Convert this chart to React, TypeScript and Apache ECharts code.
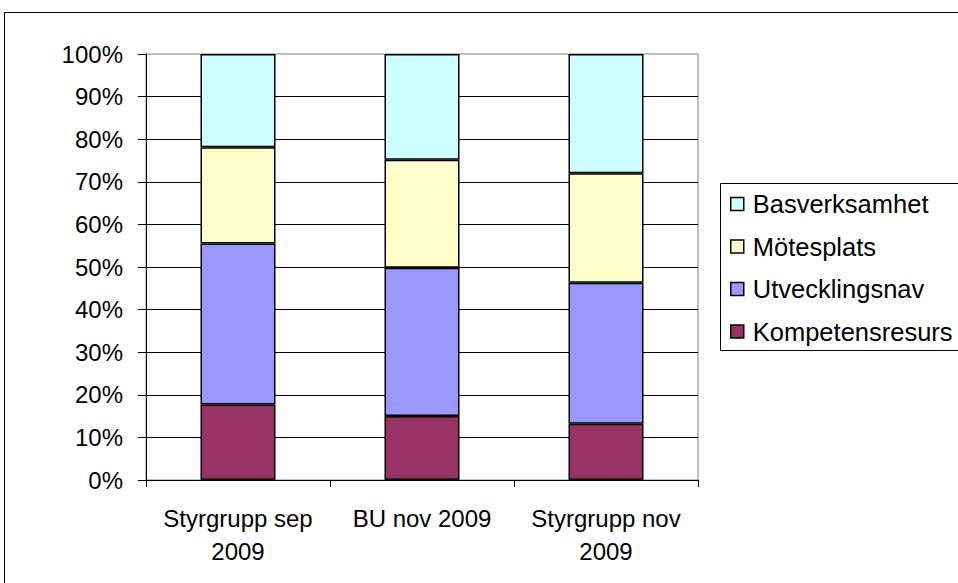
import React, { useEffect, useRef } from "react";
import * as echarts from "echarts";

const categories = ["Styrgrupp sep\n2009", "BU nov 2009", "Styrgrupp nov\n2009"];
const kompetensresurs = [17.7, 15.0, 13.2];
const utvecklingsnav = [37.8, 34.8, 33.1];
const motesplats = [22.6, 25.4, 25.7];
const basverksamhet = [21.9, 24.8, 28.0];
const legendOrder = ["Basverksamhet", "Mötesplats", "Utvecklingsnav", "Kompetensresurs"];

const FONT = "Liberation Sans, Arial, sans-serif";

export default function App() {
  const ref = useRef<HTMLDivElement>(null);
  useEffect(() => {
    if (!ref.current) return;
    const chart = echarts.init(ref.current, null, { renderer: "svg" });
    const mk = (name: string, data: number[], color: string) => ({
      name,
      type: "bar",
      stack: "total",
      data,
      barWidth: 75,
      itemStyle: { color, borderColor: "#000", borderWidth: 1.5 },
      emphasis: { disabled: true },
    });
    chart.setOption({
      animation: false,
      backgroundColor: "#fff",
      textStyle: { fontFamily: FONT },
      grid: {
        left: 146,
        top: 54,
        width: 552,
        height: 426,
        containLabel: false,
        show: true,
        borderColor: "#808080",
        borderWidth: 1,
        backgroundColor: "transparent",
      },
      xAxis: {
        type: "category",
        data: categories,
        axisLine: { show: true, lineStyle: { color: "#000", width: 1 } },
        axisTick: { show: true, length: 7, lineStyle: { color: "#000" } },
        axisLabel: { fontSize: 24, color: "#000", fontFamily: FONT, lineHeight: 33, margin: 22, interval: 0 },
      },
      yAxis: {
        type: "value",
        min: 0,
        max: 100,
        interval: 10,
        axisLine: { show: true, lineStyle: { color: "#000", width: 1 } },
        axisTick: { show: true, length: 8, lineStyle: { color: "#000" } },
        axisLabel: { fontSize: 24, color: "#000", fontFamily: FONT, margin: 23, formatter: "{value}%" },
        splitLine: { show: true, showMaxLine: false, lineStyle: { color: "#000", width: 1 } },
      },
      legend: {
        orient: "vertical",
        left: 730,
        top: 191,
        padding: 0,
        icon: "rect",
        itemWidth: 13,
        itemHeight: 13,
        itemGap: 16.5,
        data: legendOrder,
        itemStyle: { borderColor: "#000", borderWidth: 1.5 },
        textStyle: { fontSize: 25.5, color: "#000", fontFamily: FONT, lineHeight: 25, padding: [0, 0, 0, 4] },
        selectedMode: false,
      },
      graphic: [
        {
          type: "rect",
          shape: { x: 4.5, y: 12.5, width: 1000, height: 1000 },
          style: { fill: "none", stroke: "#000", lineWidth: 1 },
          silent: true,
        },
        {
          type: "rect",
          shape: { x: 720.5, y: 183.5, width: 300, height: 167 },
          style: { fill: "none", stroke: "#000", lineWidth: 1 },
          silent: true,
        },
      ],
      series: [
        mk("Kompetensresurs", kompetensresurs, "#993366"),
        mk("Utvecklingsnav", utvecklingsnav, "#9999FF"),
        mk("Mötesplats", motesplats, "#FFFFCC"),
        mk("Basverksamhet", basverksamhet, "#CCFFFF"),
      ],
    });
    return () => chart.dispose();
  }, []);
  return (
    <div
      ref={ref}
      style={{ position: "fixed", left: 0, top: 0, width: 958, height: 583, background: "#fff" }}
    />
  );
}
